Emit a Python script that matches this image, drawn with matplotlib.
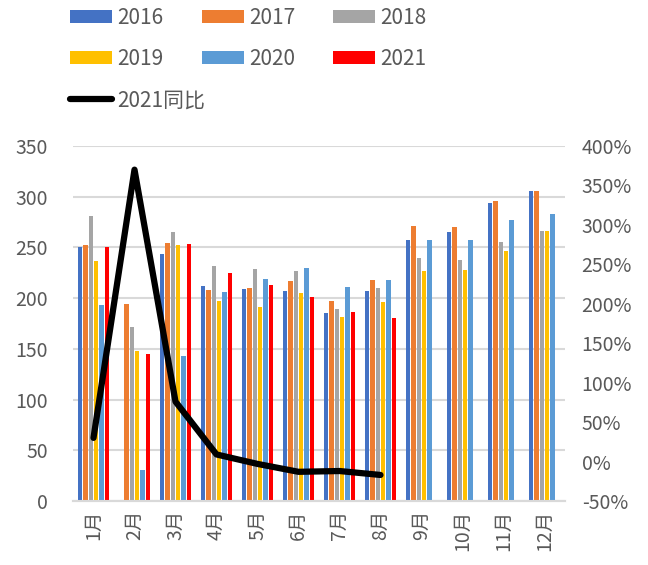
import numpy as np
import matplotlib
matplotlib.use("Agg")
import matplotlib.pyplot as plt

plt.rcParams['font.family'] = ['Noto Sans CJK SC', 'DejaVu Sans']

months = ['1月', '2月', '3月', '4月', '5月', '6月', '7月', '8月', '9月', '10月', '11月', '12月']
nan = np.nan

# monthly values per year
v2016 = [250, nan, 244, 212, 209, 207, 185, 207, 257, 265, 294, 306]
v2017 = [252, 194, 254, 208, 210, 217, 197, 218, 271, 270, 296, 306]
v2018 = [281, 172, 265, 232, 229, 227, 189, 210, 240, 238, 255, 266]
v2019 = [237, 148, 252, 197, 191, 205, 181, 196, 227, 228, 246, 266]
v2020 = [193, 31, 143, 206, 219, 230, 211, 218, 257, 257, 277, 283]
v2021 = [250, 145, 253, 225, 213, 201, 186, 180, nan, nan, nan, nan]
# 2021 year-on-year change, %
yoy_2021 = [30, 370, 76, 9, -3, -13, -12, -17]

years = ['2016', '2017', '2018', '2019', '2020', '2021']
series = [v2016, v2017, v2018, v2019, v2020, v2021]
colors = ['#4472C4', '#ED7D31', '#A5A5A5', '#FFC000', '#5B9BD5', '#FF0000']
text_color = '#595959'
grid_color = '#D9D9D9'

fig = plt.figure(figsize=(6.48, 5.65), dpi=100)
ax = fig.add_axes([73 / 648, 1 - 501 / 565, (565 - 73) / 648, (501 - 146) / 565])
ax2 = ax.twinx()

x = np.arange(len(months))
slot = 0.13
bar_w = 0.105
handles = []
for i, (vals, c, lab) in enumerate(zip(series, colors, years)):
    b = ax.bar(x + (i - 2.5) * slot, vals, width=bar_w, color=c, label=lab, zorder=3)
    handles.append(b)

ln, = ax2.plot(x[:len(yoy_2021)], yoy_2021, color='black', lw=4.5,
               solid_capstyle='round', solid_joinstyle='round', label='2021同比', zorder=4)

ax.set_xlim(-0.5, 11.5)
ax.set_ylim(0, 350)
ax.set_yticks(range(0, 351, 50))
ax2.set_ylim(-50, 400)
ax2.set_yticks(range(-50, 401, 50))
ax2.set_yticklabels([f'{t}%' for t in range(-50, 401, 50)])

ax.set_xticks(x)
ax.set_xticklabels(months, rotation=90)
ax.yaxis.grid(True, color=grid_color, lw=1.5, zorder=0)
ax.set_axisbelow(True)

for a in (ax, ax2):
    for s in ('top', 'left', 'right'):
        a.spines[s].set_visible(False)
    a.spines['bottom'].set_color(grid_color)
    a.spines['bottom'].set_linewidth(1.5)
    a.tick_params(length=0, labelsize=14, colors=text_color)
ax.tick_params(axis='y', pad=18)
ax2.tick_params(axis='y', pad=12)
ax.tick_params(axis='x', pad=6)

# legend laid out as a 3-column grid, one legend per column
columns = [([handles[0], handles[3], ln], 70),
           ([handles[1], handles[4]], 202),
           ([handles[2], handles[5]], 333)]
for hs, x0 in columns:
    fig.legend(hs, [h.get_label() for h in hs], frameon=False,
               loc='upper left', bbox_to_anchor=(x0 / 648, 1 - 7 / 565),
               borderpad=0, borderaxespad=0, fontsize=15,
               labelcolor=text_color, handlelength=2.0, handleheight=0.6,
               handletextpad=0.25, labelspacing=0.92)

fig.savefig('out.png', dpi=100)
